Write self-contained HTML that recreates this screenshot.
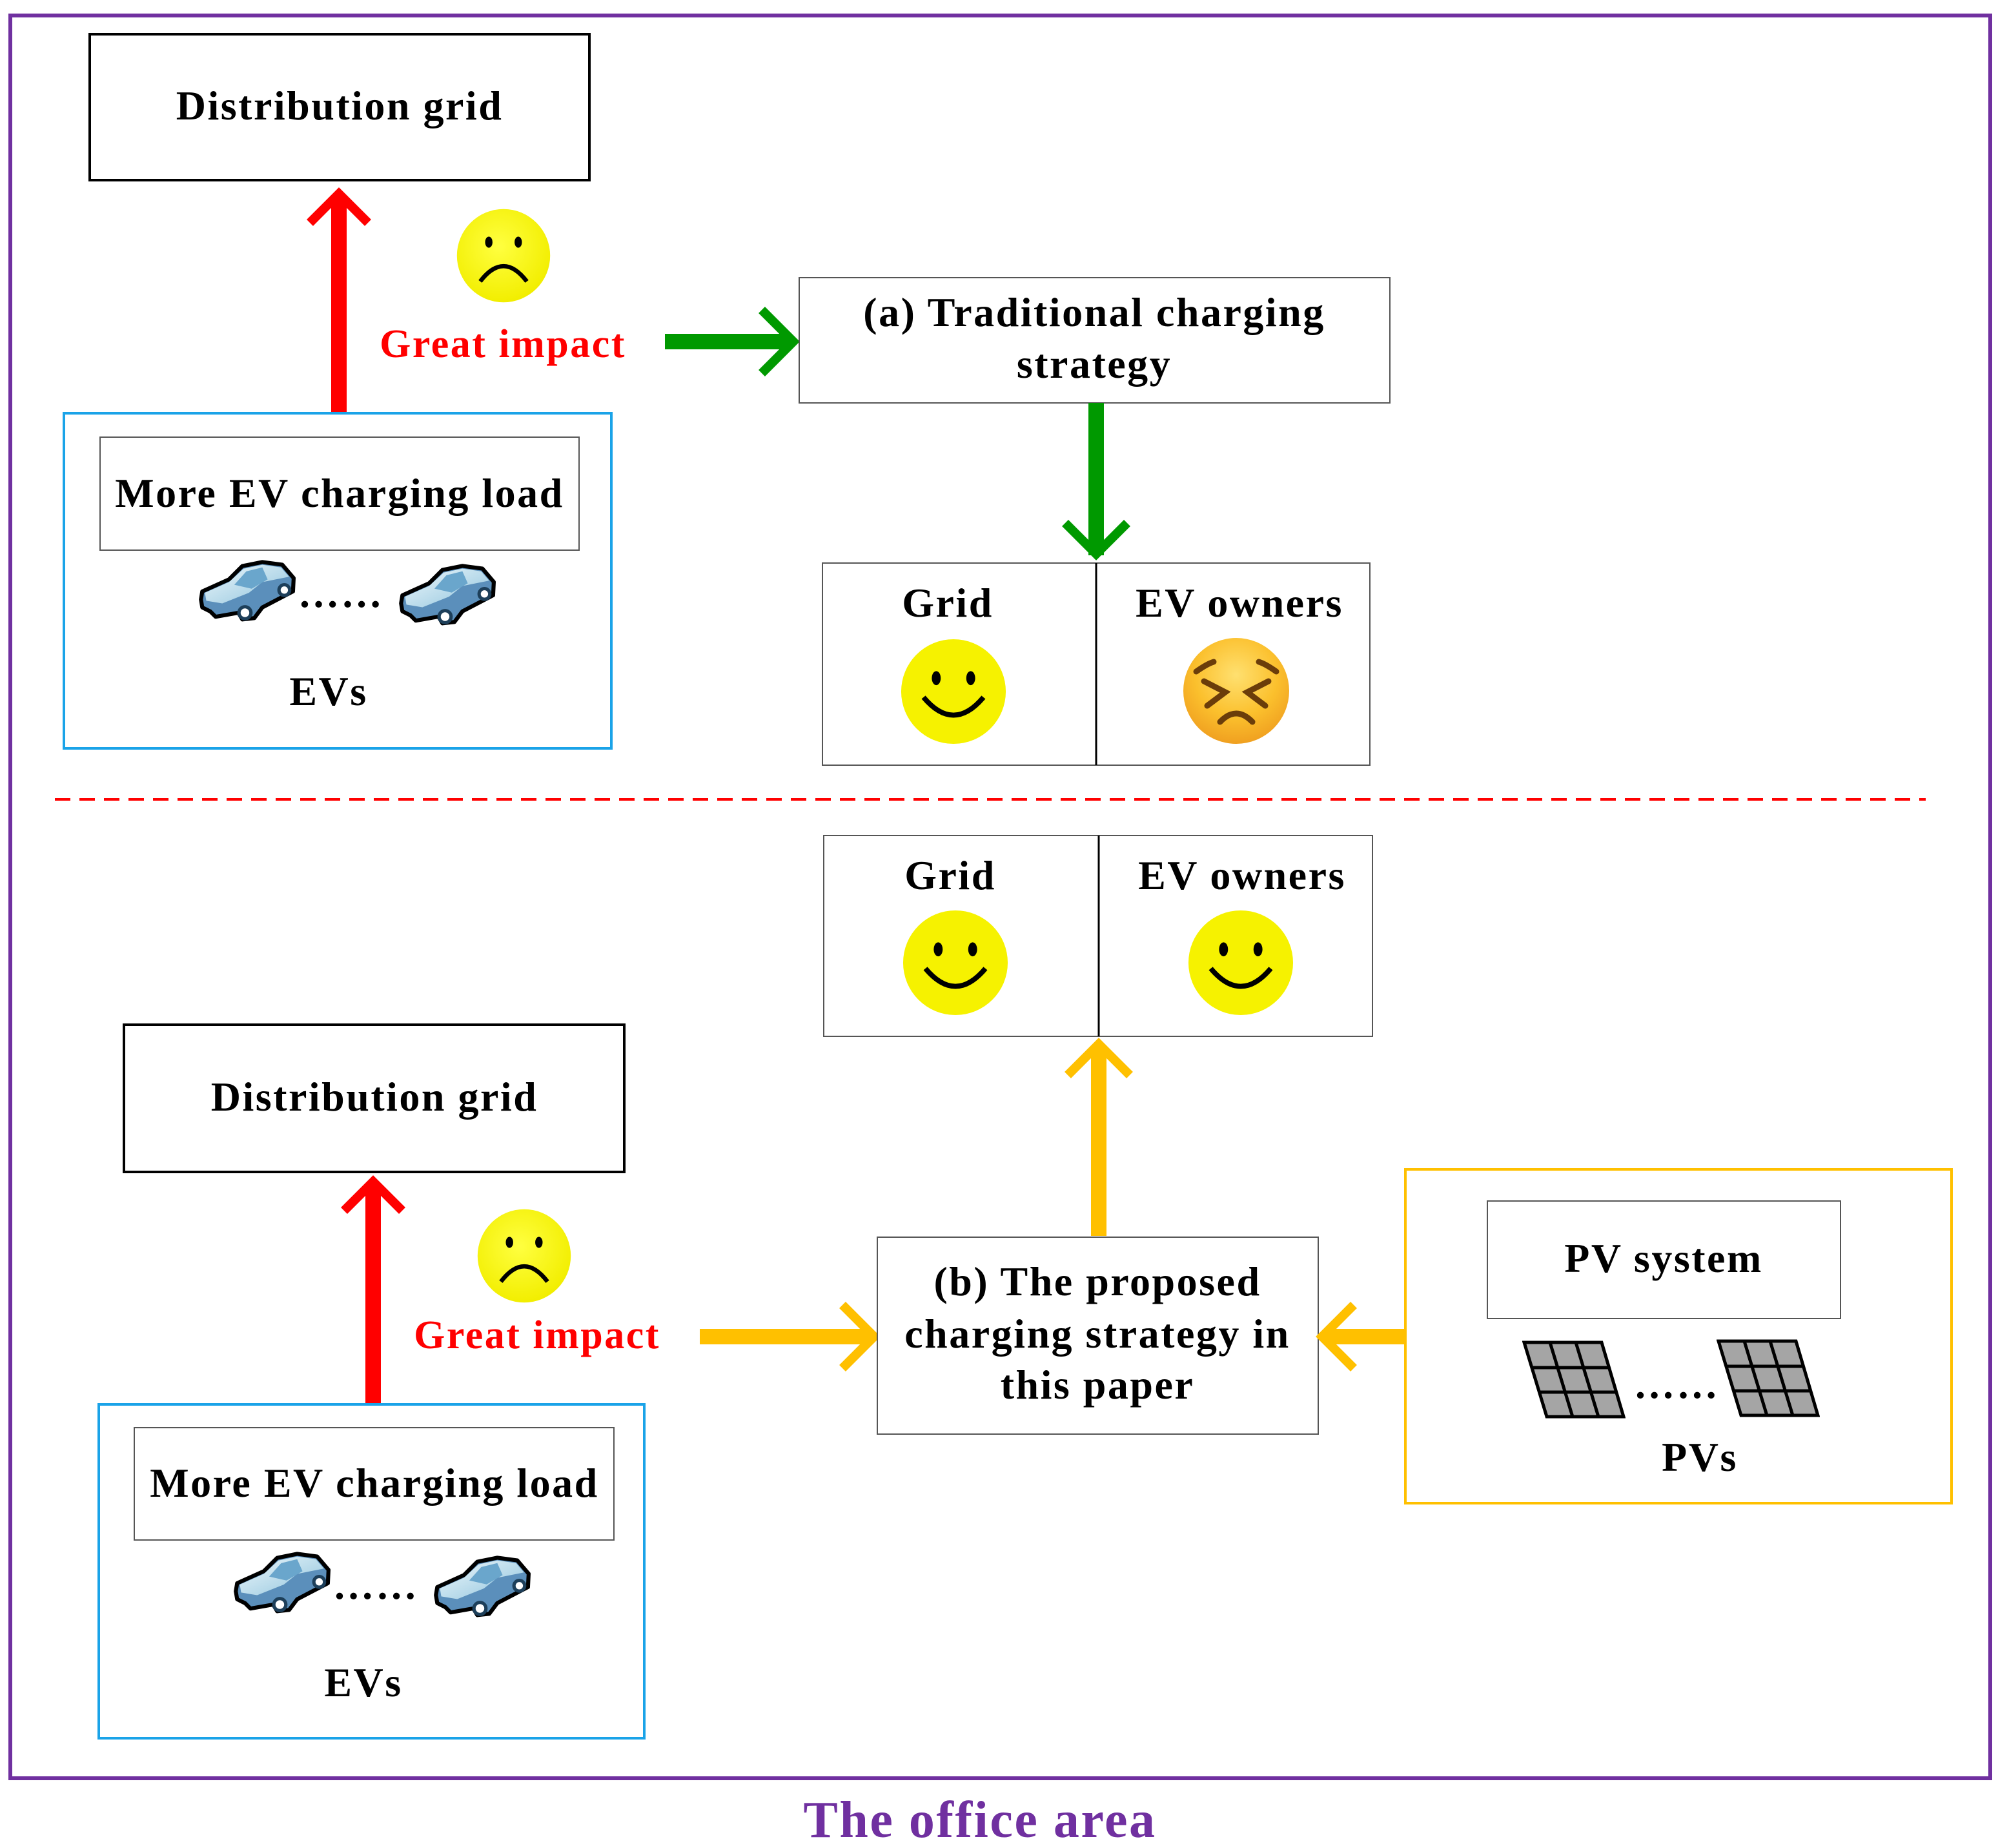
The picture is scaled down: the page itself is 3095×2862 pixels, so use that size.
<!DOCTYPE html>
<html><head><meta charset="utf-8"><style>
html,body{margin:0;padding:0;background:#fff;}
svg{display:block;}
text{font-family:"Liberation Serif",serif;font-weight:bold;letter-spacing:2.5px;}
</style></head><body>
<svg width="3095" height="2862" viewBox="0 0 3095 2862" xmlns="http://www.w3.org/2000/svg">
<defs>
<radialGradient id="yg" cx="45%" cy="40%" r="60%"><stop offset="0" stop-color="#ffff40"/><stop offset="1" stop-color="#f2ee00"/></radialGradient>
<radialGradient id="og" cx="50%" cy="35%" r="65%"><stop offset="0" stop-color="#ffe070"/><stop offset="0.6" stop-color="#fbc02d"/><stop offset="1" stop-color="#f0a020"/></radialGradient>
<linearGradient id="cg" x1="0" y1="0" x2="1" y2="1"><stop offset="0" stop-color="#eef8fc"/><stop offset="1" stop-color="#8fc3dc"/></linearGradient>
<symbol id="car" viewBox="0 0 150 100">
<path d="M8,60 L10,48 L50,30 L70,10 L100,4 L130,8 L147,28 L146,48 L100,72 L88,88 L70,90 L64,80 L30,86 L22,78 L10,72 Z" fill="#5b8fbb" stroke="#000" stroke-width="6" stroke-linejoin="round"/>
<path d="M14,50 L50,34 L72,14 L100,8 L128,12 L140,26 L100,34 L80,50 L40,66 L16,62 Z" fill="url(#cg)"/>
<path d="M58,38 L76,18 L100,12 L108,30 L84,44 Z" fill="#6aa6cc"/>
<circle cx="74" cy="80" r="9" fill="#fff" stroke="#1d3f5a" stroke-width="5"/>
<circle cx="133" cy="46" r="8" fill="#fff" stroke="#1d3f5a" stroke-width="5"/>
</symbol>
<symbol id="pv" viewBox="0 0 160 125">
<g stroke="#000" stroke-width="5" fill="#a5a5a5">
<path d="M3,3 L123,3 L157,118 L38,118 Z"/>
<path d="M43,3 L78,118 M83,3 L118,118 M14,42 L135,42 M25,80 L146,80" fill="none"/>
</g>
</symbol>
<symbol id="sad" viewBox="0 0 160 160">
<circle cx="80" cy="80" r="76" fill="url(#yg)"/>
<ellipse cx="56" cy="58" rx="6" ry="9" fill="#000"/><ellipse cx="104" cy="58" rx="6" ry="9" fill="#000"/>
<path d="M42,122 Q80,72 118,122" fill="none" stroke="#000" stroke-width="7"/>
</symbol>
<symbol id="smile" viewBox="0 0 170 170">
<circle cx="85" cy="85" r="82" fill="#f6f200"/>
<ellipse cx="58" cy="64" rx="7" ry="11" fill="#000"/><ellipse cx="112" cy="64" rx="7" ry="11" fill="#000"/>
<path d="M38,94 Q85,150 132,94" fill="none" stroke="#000" stroke-width="8"/>
</symbol>
</defs>

<rect x="16" y="24" width="3067" height="2730" fill="none" stroke="#7030a0" stroke-width="6"/>
<text x="1518" y="2845" text-anchor="middle" font-size="80" fill="#7030a0">The office area</text>

<rect x="139" y="53" width="774" height="226" fill="#fff" stroke="#000" stroke-width="4"/>
<text x="526" y="185" text-anchor="middle" font-size="64">Distribution grid</text>
<g stroke="#f00" stroke-width="24" fill="none">
<line x1="525" y1="640" x2="525" y2="305"/>
<polyline points="480,345 525,300 570,345" stroke-width="14"/>
</g>
<use href="#sad" x="704" y="318" width="152" height="156"/>
<text x="779" y="553" text-anchor="middle" font-size="62" fill="#f00">Great impact</text>
<g stroke="#009900" fill="none">
<line x1="1030" y1="529" x2="1225" y2="529" stroke-width="24"/>
<polyline points="1180,480 1229,529 1180,578" stroke-width="14"/>
</g>
<rect x="1238" y="430" width="915" height="194" fill="#fff" stroke="#555" stroke-width="2"/>
<text x="1695" y="505" text-anchor="middle" font-size="64">(a) Traditional charging</text>
<text x="1695" y="585" text-anchor="middle" font-size="64">strategy</text>
<g stroke="#009900" fill="none">
<line x1="1698" y1="624" x2="1698" y2="860" stroke-width="24"/>
<polyline points="1650,810 1698,858 1746,810" stroke-width="14"/>
</g>
<rect x="1274" y="872" width="848" height="313" fill="none" stroke="#555" stroke-width="2"/>
<line x1="1698" y1="872" x2="1698" y2="1185" stroke="#000" stroke-width="3"/>
<text x="1468" y="955" text-anchor="middle" font-size="64">Grid</text>
<text x="1920" y="955" text-anchor="middle" font-size="64">EV owners</text>
<use href="#smile" x="1393" y="985" width="168" height="172"/>
<circle cx="1915" cy="1070" r="82" fill="url(#og)"/>
<g stroke="#6b3d0a" stroke-width="9" fill="none" stroke-linecap="round">
<path d="M1853,1040 Q1870,1028 1880,1025"/><path d="M1950,1025 Q1960,1028 1977,1040"/>
<path d="M1865,1055 L1898,1072 L1870,1093"/><path d="M1965,1055 L1932,1072 L1960,1093"/>
<path d="M1890,1118 Q1915,1092 1940,1118"/>
</g>

<rect x="99" y="640" width="848" height="519" fill="none" stroke="#1aa3e8" stroke-width="4"/>
<rect x="155" y="677" width="742" height="175" fill="none" stroke="#555" stroke-width="2"/>
<text x="526" y="785" text-anchor="middle" font-size="64">More EV charging load</text>
<use href="#car" x="303" y="866" width="155" height="104"/>
<use href="#car" x="613" y="872" width="155" height="104"/>
<text x="528" y="940" text-anchor="middle" font-size="64">……</text>
<text x="509" y="1092" text-anchor="middle" font-size="64">EVs</text>

<line x1="85" y1="1238" x2="2983" y2="1238" stroke="#f00" stroke-width="4" stroke-dasharray="24,14"/>

<rect x="1276" y="1294" width="850" height="311" fill="none" stroke="#555" stroke-width="2"/>
<line x1="1702" y1="1294" x2="1702" y2="1605" stroke="#000" stroke-width="3"/>
<text x="1472" y="1377" text-anchor="middle" font-size="64">Grid</text>
<text x="1924" y="1377" text-anchor="middle" font-size="64">EV owners</text>
<use href="#smile" x="1396" y="1405" width="168" height="172"/>
<use href="#smile" x="1838" y="1405" width="168" height="172"/>
<g stroke="#ffc000" fill="none">
<line x1="1702" y1="1914" x2="1702" y2="1620" stroke-width="24"/>
<polyline points="1654,1665 1702,1617 1750,1665" stroke-width="14"/>
</g>
<rect x="192" y="1587" width="775" height="228" fill="#fff" stroke="#000" stroke-width="4"/>
<text x="580" y="1720" text-anchor="middle" font-size="64">Distribution grid</text>
<g stroke="#f00" stroke-width="24" fill="none">
<line x1="578" y1="2175" x2="578" y2="1835"/>
<polyline points="533,1875 578,1830 623,1875" stroke-width="14"/>
</g>
<use href="#sad" x="736" y="1867" width="152" height="156"/>
<text x="832" y="2088" text-anchor="middle" font-size="62" fill="#f00">Great impact</text>
<g stroke="#ffc000" fill="none">
<line x1="1084" y1="2070" x2="1350" y2="2070" stroke-width="24"/>
<polyline points="1305,2021 1354,2070 1305,2119" stroke-width="14"/>
</g>
<rect x="1359" y="1916" width="683" height="305" fill="#fff" stroke="#555" stroke-width="2"/>
<text x="1700" y="2006" text-anchor="middle" font-size="64">(b) The proposed</text>
<text x="1700" y="2087" text-anchor="middle" font-size="64">charging strategy in</text>
<text x="1700" y="2166" text-anchor="middle" font-size="64">this paper</text>
<g stroke="#ffc000" fill="none">
<line x1="2177" y1="2070" x2="2052" y2="2070" stroke-width="24"/>
<polyline points="2097,2021 2048,2070 2097,2119" stroke-width="14"/>
</g>
<rect x="2177" y="1811" width="846" height="517" fill="none" stroke="#ffc000" stroke-width="4"/>
<rect x="2304" y="1860" width="547" height="182" fill="none" stroke="#555" stroke-width="2"/>
<text x="2577" y="1970" text-anchor="middle" font-size="64">PV system</text>
<use href="#pv" x="2358" y="2076" width="160" height="125"/>
<use href="#pv" x="2659" y="2074" width="160" height="125"/>
<text x="2597" y="2165" text-anchor="middle" font-size="64">……</text>
<text x="2633" y="2278" text-anchor="middle" font-size="64">PVs</text>

<rect x="153" y="2175" width="845" height="517" fill="none" stroke="#1aa3e8" stroke-width="4"/>
<rect x="208" y="2211" width="743" height="174" fill="none" stroke="#555" stroke-width="2"/>
<text x="580" y="2318" text-anchor="middle" font-size="64">More EV charging load</text>
<use href="#car" x="357" y="2402" width="155" height="104"/>
<use href="#car" x="667" y="2408" width="155" height="104"/>
<text x="582" y="2476" text-anchor="middle" font-size="64">……</text>
<text x="563" y="2627" text-anchor="middle" font-size="64">EVs</text>
</svg>
</body></html>
